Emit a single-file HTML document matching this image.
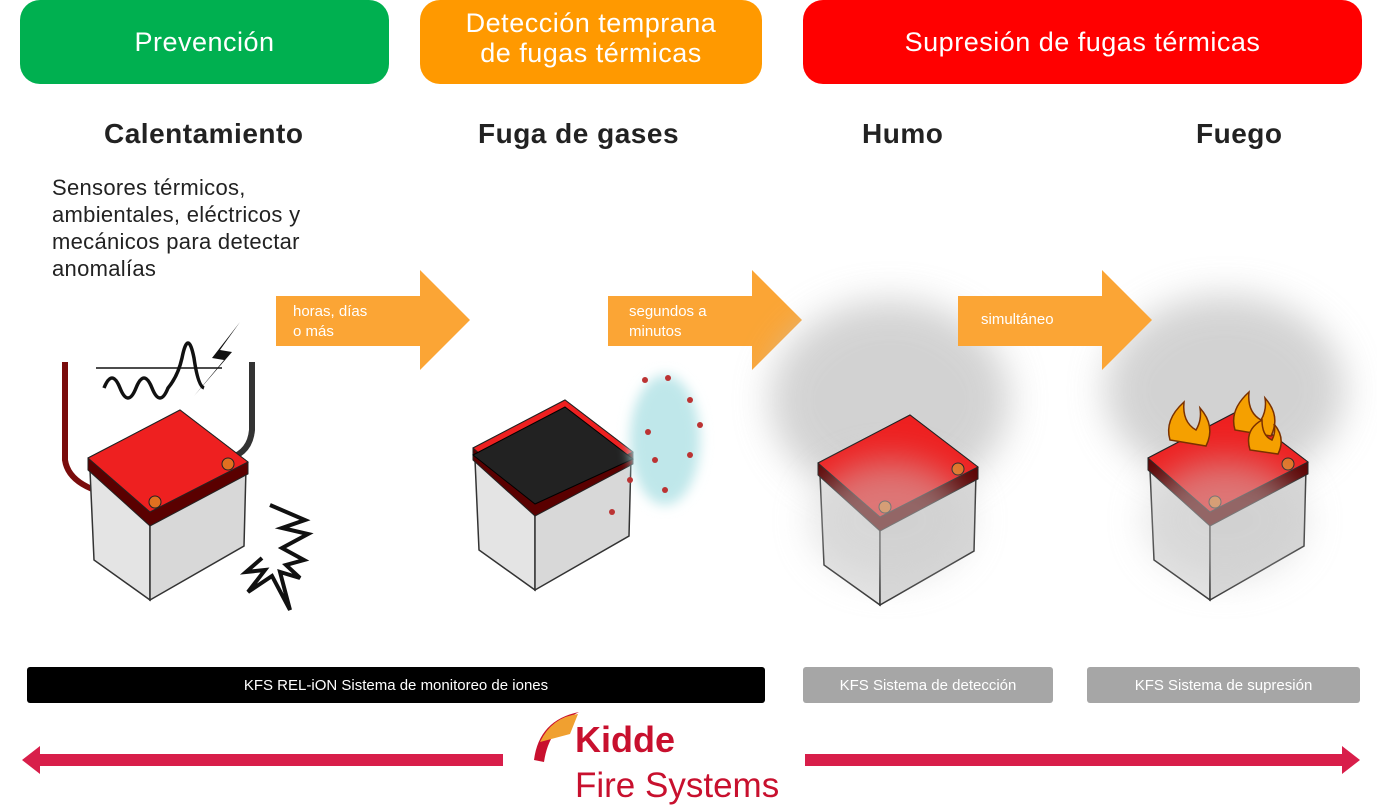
<!DOCTYPE html>
<html><head><meta charset="utf-8"><style>
body{margin:0;width:1377px;height:809px;background:#fff;overflow:hidden;font-family:"Liberation Sans",sans-serif;position:relative}
.hdr{position:absolute;top:0;height:84px;border-radius:20px;color:#fff;font-size:27px;display:flex;align-items:center;justify-content:center;text-align:center;line-height:30px;letter-spacing:0.5px}
.t{position:absolute;font-size:28px;font-weight:bold;color:#222;letter-spacing:0.5px}
.bar{position:absolute;top:667px;height:36px;border-radius:3px;color:#fff;font-size:15px;display:flex;align-items:center;justify-content:center}
.al{position:absolute;color:#fff;font-size:15px;line-height:20px}
</style></head><body>
<div class="hdr" style="left:20px;width:369px;background:#00b050">Prevención</div>
<div class="hdr" style="left:420px;width:342px;background:#ff9900;align-items:flex-start;padding-top:8px;height:76px">Detección temprana<br>de fugas térmicas</div>
<div class="hdr" style="left:803px;width:559px;background:#ff0000">Supresión de fugas térmicas</div>
<div class="t" style="left:104px;top:118px">Calentamiento</div>
<div class="t" style="left:478px;top:118px">Fuga de gases</div>
<div class="t" style="left:862px;top:118px">Humo</div>
<div class="t" style="left:1196px;top:118px">Fuego</div>
<div style="position:absolute;left:52px;top:174px;font-size:22px;line-height:27px;color:#222;letter-spacing:0.3px">Sensores térmicos,<br>ambientales, eléctricos y<br>mecánicos para detectar<br>anomalías</div>
<svg width="1377" height="809" style="position:absolute;left:0;top:0">
<defs>
<filter id="bl" x="-100%" y="-100%" width="300%" height="300%"><feGaussianBlur stdDeviation="18"/></filter>
<filter id="bl2" x="-100%" y="-100%" width="300%" height="300%"><feGaussianBlur stdDeviation="6"/></filter>
<g id="bat">
<polygon points="-60,-50 0,0 0,80 -56,40" fill="#e4e4e4" stroke="#333" stroke-width="1.5"/>
<polygon points="0,0 96,-52 94,26 0,80" fill="#d8d8d8" stroke="#333" stroke-width="1.5"/>
<polygon points="-62,-62 30,-110 98,-58 98,-46 0,6 -62,-50" fill="#5a0000" stroke="#222" stroke-width="1"/>
<polygon points="-62,-62 30,-110 98,-58 0,-8" fill="#ee2020" stroke="#222" stroke-width="1"/>
<circle cx="5" cy="-18" r="6" fill="#e07020" stroke="#222"/>
<circle cx="78" cy="-56" r="6" fill="#e07020" stroke="#222"/>
</g>
</defs>
<polygon points="276,296 420,296 420,270 470,320 420,370 420,346 276,346" fill="#fba535"/>
<polygon points="608,296 752,296 752,270 802,320 752,370 752,346 608,346" fill="#fba535"/>
<ellipse cx="890" cy="400" rx="120" ry="100" fill="#c4c4c4" filter="url(#bl)" opacity="0.75"/>
<ellipse cx="1225" cy="390" rx="120" ry="95" fill="#c4c4c4" filter="url(#bl)" opacity="0.75"/>
<polygon points="958,296 1102,296 1102,270 1152,320 1102,370 1102,346 958,346" fill="#fba535"/>
<path d="M65,362 L65,460 Q70,495 150,500" stroke="#7a0c0c" stroke-width="6" fill="none"/>
<path d="M252,362 L252,430 Q250,452 230,458" stroke="#333" stroke-width="6" fill="none"/>
<use href="#bat" x="150" y="520"/>
<path d="M96,368 L222,368" stroke="#111" stroke-width="1.5"/>
<path d="M104,388 q8,-20 16,0 q8,20 16,0 q8,-20 16,0 q8,20 16,0 q10,-12 14,-30 q6,-30 12,0 q4,28 10,30" stroke="#111" stroke-width="3.5" fill="none"/>
<path d="M240,322 L212,358 L224,360 L194,396 L232,352 L220,350 Z" fill="#111"/>
<polyline points="270,505 305,520 282,528 308,534 282,548 304,560 286,565 300,578 280,572 290,610 272,576 248,592 265,570 246,572 262,558" fill="none" stroke="#111" stroke-width="4"/>
<use href="#bat" x="535" y="510"/>
<polygon points="473,455 565,407 633,459 535,504" fill="#222" stroke="#000"/>
<ellipse cx="665" cy="440" rx="35" ry="65" fill="#bfe7ea" filter="url(#bl2)"/>
<g fill="#b33">
<circle cx="645" cy="380" r="3"/><circle cx="668" cy="378" r="3"/><circle cx="690" cy="400" r="3"/><circle cx="648" cy="432" r="3"/><circle cx="700" cy="425" r="3"/><circle cx="655" cy="460" r="3"/><circle cx="690" cy="455" r="3"/><circle cx="630" cy="480" r="3"/><circle cx="665" cy="490" r="3"/><circle cx="612" cy="512" r="3"/>
</g>
<use href="#bat" x="880" y="525"/>
<ellipse cx="890" cy="520" rx="80" ry="60" fill="#ccc" filter="url(#bl)" opacity="0.5"/>
<use href="#bat" x="1210" y="520"/>
<ellipse cx="1225" cy="520" rx="80" ry="60" fill="#ccc" filter="url(#bl)" opacity="0.5"/>
<g fill="#f5a000" stroke="#7a3000" stroke-width="1.5">
<path d="M1170,440 q-6,-20 14,-38 q-2,20 12,28 q6,-10 4,-22 q16,18 6,38 z"/>
<path d="M1235,430 q-6,-20 14,-38 q-2,20 12,28 q6,-10 4,-22 q16,18 6,38 z"/>
<path d="M1250,450 q-6,-20 12,-30 q0,16 10,20 q4,-8 2,-16 q12,14 4,30 z"/>
</g>
<rect x="36" y="754" width="467" height="12" fill="#d81e4a"/>
<polygon points="22,760 40,746 40,774" fill="#d81e4a"/>
<rect x="805" y="754" width="540" height="12" fill="#d81e4a"/>
<polygon points="1360,760 1342,746 1342,774" fill="#d81e4a"/>
<path d="M534,760 q5,-40 45,-48 q-30,15 -35,50 z" fill="#c8102e"/>
<path d="M540,742 q12,-25 38,-28 l-8,20 z" fill="#f0a030"/>
</svg>
<div class="al" style="left:293px;top:302px">horas, días<br>o más</div>
<div class="al" style="left:629px;top:302px">segundos a<br>minutos</div>
<div class="al" style="left:981px;top:310px">simultáneo</div>
<div class="bar" style="left:27px;width:738px;background:#000">KFS REL-iON Sistema de monitoreo de iones</div>
<div class="bar" style="left:803px;width:250px;background:#a6a6a6">KFS Sistema de detección</div>
<div class="bar" style="left:1087px;width:273px;background:#a6a6a6">KFS Sistema de supresión</div>
<div style="position:absolute;left:575px;top:720px;color:#c8102e;font-size:36px;font-weight:bold;line-height:40px">Kidde</div>
<div style="position:absolute;left:575px;top:766px;color:#c8102e;font-size:35px;line-height:40px">Fire Systems</div>
</body></html>
